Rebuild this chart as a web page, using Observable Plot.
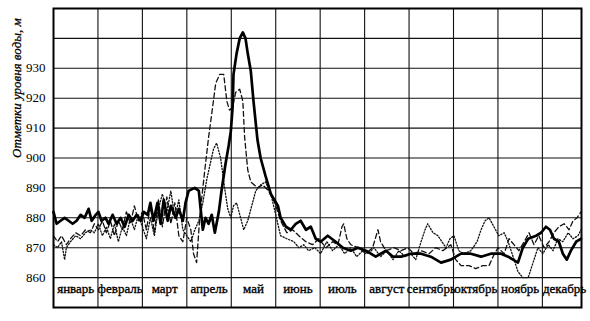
<!DOCTYPE html>
<html>
<head>
<meta charset="utf-8">
<script src="https://cdn.jsdelivr.net/npm/d3@7"></script>
<script src="https://cdn.jsdelivr.net/npm/@observablehq/plot@0.6"></script>
<style>
  html, body { margin: 0; padding: 0; background: #fff; }
</style>
</head>
<body>
<div id="chart"></div>
<script>
const months = ["январь","февраль","март","апрель","май","июнь","июль","август","сентябрь","октябрь","ноябрь","декабрь"];
const yTicks = [860, 870, 880, 890, 900, 910, 920, 930];
const yGrid = [860, 870, 880, 890, 900, 910, 920, 930, 940];
const monthBounds = [1, 2, 3, 4, 5, 6, 7, 8, 9, 10, 11];
const yLabel = "Отметки уровня воды, м";

// [month (fraction of year, 0 = 1 Jan), water level, m]
const seriesSolid = [
  [0.00,882],[0.07,878],[0.16,879],[0.25,880],[0.34,879],[0.43,878],[0.52,879],[0.61,881],[0.70,880],[0.79,883],
  [0.86,879],[0.95,881],[1.01,882],[1.08,879],[1.17,880],[1.24,878],[1.33,881],[1.42,878],[1.51,880],[1.60,877],
  [1.69,881],[1.78,879],[1.87,881],[1.96,879],[2.03,882],[2.12,881],[2.18,885],[2.25,879],[2.34,885],[2.41,878],
  [2.48,886],[2.57,879],[2.64,884],[2.75,880],[2.82,883],[2.91,879],[2.97,885],[3.04,889],[3.18,890],[3.27,889],
  [3.31,883],[3.36,876],[3.42,880],[3.49,878],[3.56,881],[3.63,875],[3.72,882],[3.78,889],[3.87,898],[3.94,904],
  [3.99,909],[4.03,917],[4.05,928],[4.12,935],[4.19,940],[4.26,942],[4.32,940],[4.37,935],[4.44,929],[4.50,919],
  [4.59,906],[4.66,900],[4.77,894],[4.89,888],[5.05,884],[5.11,880],[5.23,877],[5.34,876],[5.45,878],[5.56,879],
  [5.68,876],[5.79,877],[5.90,873],[6.01,872],[6.17,874],[6.35,872],[6.51,870],[6.69,869],[6.85,870],[7.03,869],
  [7.25,867],[7.48,869],[7.64,867],[7.82,867],[8.04,868],[8.27,868],[8.49,867],[8.72,865],[8.94,866],[9.17,868],
  [9.39,868],[9.62,867],[9.84,868],[10.07,868],[10.23,867],[10.34,866],[10.45,865],[10.56,870],[10.68,873],[10.86,874],
  [10.97,875],[11.08,877],[11.17,876],[11.26,873],[11.37,872],[11.46,868],[11.55,866],[11.64,869],[11.76,872],[11.87,873]
];

const seriesDashed = [
  [0.00,874],[0.09,872],[0.18,874],[0.29,871],[0.38,873],[0.50,875],[0.61,874],[0.72,876],[0.83,875],[0.92,878],
  [1.01,876],[1.10,879],[1.19,875],[1.28,879],[1.37,874],[1.46,879],[1.55,876],[1.64,882],[1.73,878],[1.82,884],
  [1.91,879],[2.00,882],[2.09,876],[2.18,884],[2.27,875],[2.36,886],[2.45,877],[2.55,887],[2.64,878],[2.73,885],
  [2.82,874],[2.91,872],[3.00,880],[3.09,876],[3.15,868],[3.22,865],[3.29,880],[3.36,890],[3.42,898],[3.49,907],
  [3.58,917],[3.65,925],[3.74,928],[3.83,928],[3.90,919],[3.96,916],[4.03,917],[4.10,922],[4.19,923],[4.26,919],
  [4.30,907],[4.37,896],[4.44,892],[4.59,890],[4.71,891],[4.84,889],[4.98,885],[5.11,879],[5.25,875],[5.38,876],
  [5.52,874],[5.68,872],[5.83,871],[5.97,873],[6.13,870],[6.28,872],[6.40,871],[6.49,877],[6.53,878],[6.60,873],
  [6.69,871],[6.85,870],[7.03,868],[7.18,870],[7.30,876],[7.36,872],[7.48,869],[7.66,870],[7.82,869],[7.97,870],
  [8.11,868],[8.27,869],[8.45,868],[8.60,870],[8.76,869],[8.94,871],[9.05,866],[9.17,864],[9.35,864],[9.50,863],
  [9.66,864],[9.80,864],[9.89,867],[10.00,870],[10.14,868],[10.25,873],[10.36,871],[10.47,869],[10.59,872],[10.70,875],
  [10.81,871],[10.92,874],[11.04,870],[11.15,872],[11.26,875],[11.37,877],[11.49,878],[11.60,876],[11.69,879],[11.78,880],
  [11.87,882]
];

const seriesDotted = [
  [0.00,871],[0.09,870],[0.18,872],[0.25,866],[0.29,870],[0.38,872],[0.50,874],[0.61,873],[0.72,875],[0.83,876],
  [0.92,875],[1.01,878],[1.10,874],[1.19,877],[1.28,873],[1.37,878],[1.46,872],[1.55,877],[1.64,874],[1.73,880],
  [1.82,876],[1.91,881],[2.00,877],[2.09,873],[2.18,880],[2.27,874],[2.36,883],[2.45,888],[2.55,882],[2.64,889],
  [2.73,880],[2.82,886],[2.91,876],[3.00,874],[3.09,872],[3.18,876],[3.27,879],[3.36,885],[3.45,893],[3.54,899],
  [3.60,903],[3.67,905],[3.76,900],[3.85,890],[3.92,883],[3.99,880],[4.05,884],[4.12,885],[4.21,880],[4.28,876],
  [4.37,879],[4.46,884],[4.55,889],[4.66,891],[4.77,892],[4.89,888],[5.00,881],[5.11,874],[5.25,873],[5.41,872],
  [5.52,870],[5.63,871],[5.74,869],[5.88,870],[6.01,868],[6.15,872],[6.28,869],[6.42,871],[6.55,868],[6.69,870],
  [6.82,867],[6.96,869],[7.09,868],[7.21,870],[7.36,867],[7.50,869],[7.64,866],[7.77,869],[7.91,867],[8.04,868],
  [8.15,866],[8.27,872],[8.36,876],[8.42,878],[8.54,875],[8.65,874],[8.74,872],[8.83,870],[8.92,873],[9.01,874],
  [9.12,869],[9.23,868],[9.39,869],[9.53,872],[9.62,876],[9.71,879],[9.80,880],[9.91,877],[10.02,874],[10.14,875],
  [10.23,872],[10.34,867],[10.45,862],[10.56,860],[10.68,860],[10.79,865],[10.90,870],[11.01,868],[11.13,871],[11.24,869],
  [11.35,873],[11.46,872],[11.58,875],[11.69,873],[11.80,874],[11.87,876]
];

const chart = Plot.plot({
  width: 590,
  height: 321,
  marginLeft: 53,
  marginRight: 9,
  marginTop: 8,
  marginBottom: 14,
  x: {domain: [0, 11.88], axis: null},
  y: {domain: [850, 950]},
  style: {fontFamily: "'Liberation Serif', 'Times New Roman', serif", fontSize: "13px", background: "#fff", color: "#000"},
  marks: [
    Plot.ruleY(yGrid, {stroke: "#111", strokeWidth: 1.1}),
    Plot.ruleX(monthBounds, {stroke: "#111", strokeWidth: 1.1}),
    Plot.line(seriesDotted, {x: d => d[0], y: d => d[1], stroke: "#111", strokeWidth: 1.3, strokeDasharray: "1.3,1.8"}),
    Plot.line(seriesDashed, {x: d => d[0], y: d => d[1], stroke: "#111", strokeWidth: 1.3, strokeDasharray: "5,3"}),
    Plot.line(seriesSolid, {x: d => d[0], y: d => d[1], stroke: "#000", strokeWidth: 2.7, strokeLinejoin: "round"}),
    Plot.frame({stroke: "#000", strokeWidth: 2}),
    Plot.axisY(yTicks, {tickSize: 0, tickPadding: 8, fontSize: 13, label: null, stroke: "#000", strokeWidth: 0.35}),
    Plot.text(months, {x: (d, i) => i + 0.5, frameAnchor: "bottom", dy: -15, fontSize: 13, fill: "#000", stroke: "#000", strokeWidth: 0.35}),
    Plot.text([yLabel], {frameAnchor: "left", rotate: -90, dx: -37, fontStyle: "italic", fontSize: 13, fill: "#000", stroke: "#000", strokeWidth: 0.3})
  ]
});
document.getElementById("chart").appendChild(chart);
</script>
</body>
</html>
